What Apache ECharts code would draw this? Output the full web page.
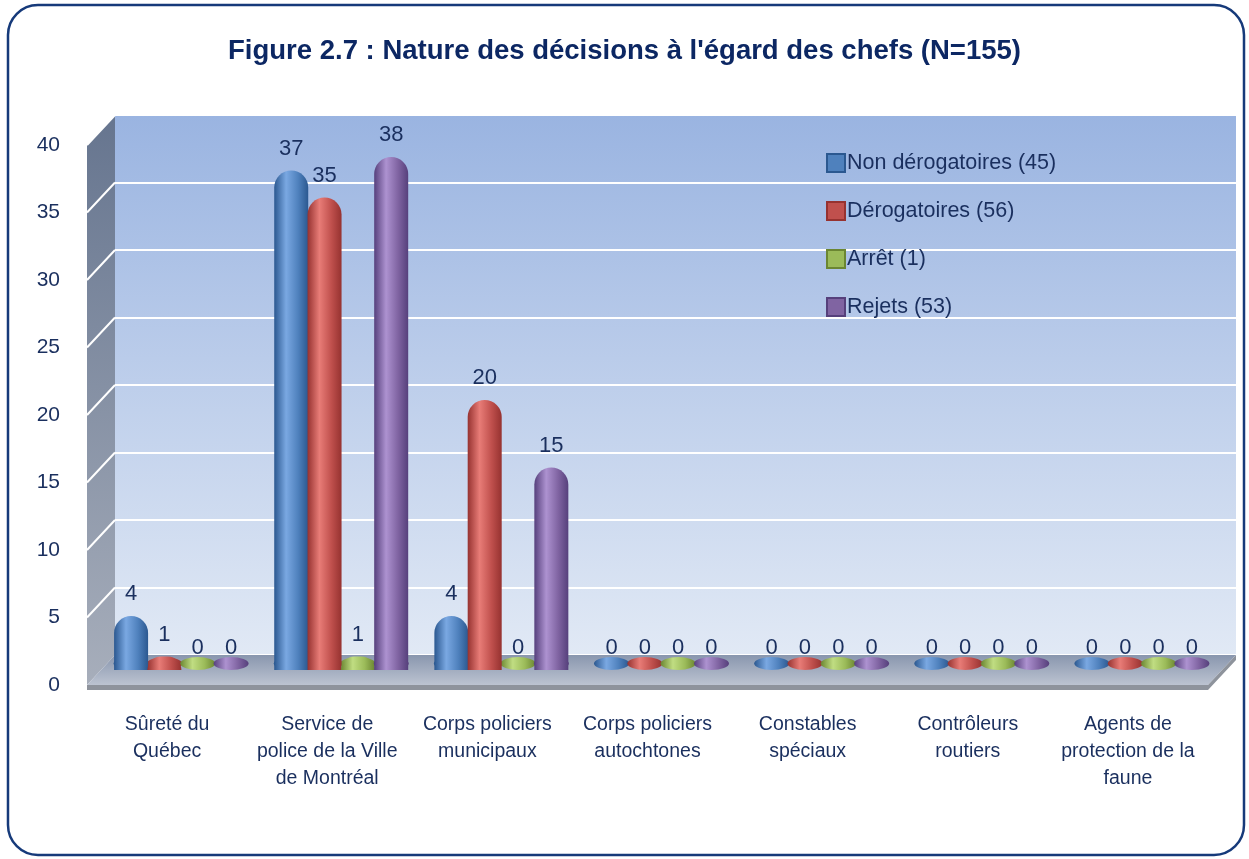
<!DOCTYPE html>
<html>
<head>
<meta charset="utf-8">
<title>Figure 2.7</title>
<script src="https://cdn.jsdelivr.net/npm/echarts@6/dist/echarts.min.js"></script>
<style>
  html, body { margin: 0; padding: 0; background: #fff; }
  #chart { width: 1249px; height: 859px; }
</style>
</head>
<body>
<div id="chart"></div>
<script>
// données
const categories = [
  "Sûreté du\nQuébec",
  "Service de\npolice de la Ville\nde Montréal",
  "Corps policiers\nmunicipaux",
  "Corps policiers\nautochtones",
  "Constables\nspéciaux",
  "Contrôleurs\nroutiers",
  "Agents de\nprotection de la\nfaune"
];
const seriesNames = ["Non dérogatoires (45)", "Dérogatoires (56)", "Arrêt (1)", "Rejets (53)"];
const nonDerogatoires = [4, 37, 4, 0, 0, 0, 0];
const derogatoires = [1, 35, 20, 0, 0, 0, 0];
const arret = [0, 1, 0, 0, 0, 0, 0];
const rejets = [0, 38, 15, 0, 0, 0, 0];
const yMin = 0, yMax = 40, yStep = 5;

const seriesData = [nonDerogatoires, derogatoires, arret, rejets];
// couleurs : [sombre, clair, base]
const palette = [
  ["#2b5890", "#7aa8e2", "#4f81bd"],
  ["#963230", "#e87c77", "#c0504d"],
  ["#6b8632", "#c0dd82", "#9bbb59"],
  ["#56407c", "#ad92d0", "#8064a2"]
];
const textColor = "#1a2f5e";

// plans avant / milieu / arrière (effet 3D)
const W = 1249, H = 859;
const front = { left: 87, right: W - 1208, top: 145, bottom: H - 685 };
const depth = { dx: 28, dy: -30 };
const mid = { left: front.left + depth.dx / 2, right: front.right - depth.dx / 2, top: front.top + depth.dy / 2, bottom: front.bottom - depth.dy / 2 };
const back = { left: front.left + depth.dx, right: front.right - depth.dx, top: front.top + depth.dy, bottom: front.bottom - depth.dy };

const cylinder = function (c) {
  return new echarts.graphic.LinearGradient(0, 0, 1, 0, [
    { offset: 0, color: c[0] },
    { offset: 0.35, color: c[1] },
    { offset: 0.7, color: c[2] },
    { offset: 1, color: c[0] }
  ]);
};

let chart = echarts.init(document.getElementById("chart"));

let series = [];
seriesNames.forEach(function (name, i) {
  series.push({
    name: name,
    type: "bar",
    xAxisIndex: 1,
    yAxisIndex: 1,
    data: seriesData[i],
    barWidth: 34,
    barGap: "-2%",
    barCategoryGap: "15%",
    z: 4,
    itemStyle: { color: cylinder(palette[i]), borderRadius: [17, 17, 0, 0] },
    label: {
      show: true,
      position: "top",
      distance: 11,
      color: textColor,
      fontSize: 22,
      fontFamily: "Liberation Sans"
    }
  });
  // disque à la base du cylindre
  series.push({
    name: name,
    type: "pictorialBar",
    xAxisIndex: 1,
    yAxisIndex: 1,
    data: seriesData[i],
    symbol: "circle",
    symbolSize: [35, 13],
    symbolPosition: "start",
    barWidth: 34,
    barGap: "-2%",
    barCategoryGap: "15%",
    z: 3,
    silent: true,
    itemStyle: { color: cylinder(palette[i]) }
  });
});

chart.setOption({
  animation: false,
  textStyle: { fontFamily: "Liberation Sans" },
  title: {
    text: "Figure 2.7 : Nature des décisions à l'égard des chefs (N=155)",
    left: "center",
    top: 32,
    textStyle: { fontSize: 27.5, fontWeight: "bold", color: "#0c2763", fontFamily: "Liberation Sans" }
  },
  legend: {
    orient: "vertical",
    left: 826,
    top: 152,
    itemWidth: 18,
    itemHeight: 18,
    itemGap: 26,
    padding: 0,
    icon: "rect",
    textStyle: { fontSize: 21.5, color: textColor, padding: [0, 0, 0, -3] },
    data: seriesNames.map(function (n, i) {
      return { name: n, itemStyle: { color: palette[i][2], borderColor: palette[i][0], borderWidth: 2 } };
    })
  },
  grid: [
    { left: back.left, right: back.right, top: back.top, bottom: back.bottom, show: true, borderWidth: 0,
      backgroundColor: new echarts.graphic.LinearGradient(0, 0, 0, 1, [
        { offset: 0, color: "#9ab4e1" },
        { offset: 1, color: "#e1e9f5" }
      ]) },
    { left: mid.left, right: mid.right, top: mid.top, bottom: mid.bottom },
    { left: front.left, right: front.right, top: front.top, bottom: front.bottom }
  ],
  xAxis: [
    { type: "category", gridIndex: 0, data: categories, show: false },
    { type: "category", gridIndex: 1, data: categories, show: false },
    {
      type: "category", gridIndex: 2, data: categories,
      axisLine: { show: false }, axisTick: { show: false },
      axisLabel: { margin: 26, fontSize: 19.5, lineHeight: 27, color: textColor, interval: 0, verticalAlign: "top" }
    }
  ],
  yAxis: [
    {
      type: "value", gridIndex: 0, min: yMin, max: yMax, interval: yStep,
      axisLine: { show: false }, axisTick: { show: false }, axisLabel: { show: false },
      splitLine: { show: true, lineStyle: { color: "#ffffff", width: 2 } }
    },
    { type: "value", gridIndex: 1, min: yMin, max: yMax, interval: yStep, show: false, splitLine: { show: false } },
    {
      type: "value", gridIndex: 2, min: yMin, max: yMax, interval: yStep,
      axisLine: { show: false }, axisTick: { show: false }, splitLine: { show: false },
      axisLabel: { margin: 27, fontSize: 21, color: textColor }
    }
  ],
  series: series
});

// murs latéral et sol, calés sur les axes
let ticks = [];
for (let v = yMin; v <= yMax; v += yStep) ticks.push(v);
let fx0 = front.left, fx1 = W - front.right;
let fyTop = chart.convertToPixel({ yAxisIndex: 2 }, yMax);
let fy0 = chart.convertToPixel({ yAxisIndex: 2 }, yMin);
let bx0 = back.left, bx1 = W - back.right;
let byTop = chart.convertToPixel({ yAxisIndex: 0 }, yMax);
let by0 = chart.convertToPixel({ yAxisIndex: 0 }, yMin);

let elements = [
  {
    type: "rect", z: 100,
    shape: { x: 8, y: 5, width: W - 13, height: H - 9, r: 30 },
    style: { fill: null, stroke: "#163a7a", lineWidth: 2.5 }
  },
  {
    type: "polygon", z: 1,
    shape: { points: [[fx0, fyTop], [bx0, byTop], [bx0, by0], [fx0, fy0]] },
    style: {
      fill: new echarts.graphic.LinearGradient(0, 0, 0, 1, [
        { offset: 0, color: "#66758f" },
        { offset: 1, color: "#a7aebb" }
      ])
    }
  },
  {
    type: "polygon", z: 1,
    shape: { points: [[fx0, fy0], [bx0, by0], [bx1, by0], [fx1, fy0]] },
    style: {
      fill: new echarts.graphic.LinearGradient(0, 0, 0, 1, [
        { offset: 0, color: "#8996ae" },
        { offset: 1, color: "#bcc3d1" }
      ])
    }
  },
  {
    type: "polygon", z: 1,
    shape: { points: [[fx0, fy0], [fx1, fy0], [bx1, by0], [bx1, by0 + 5], [fx1, fy0 + 5], [fx0, fy0 + 5]] },
    style: { fill: "#8e939c" }
  }
];
ticks.forEach(function (v) {
  if (v === yMin) return;
  let yf = chart.convertToPixel({ yAxisIndex: 2 }, v);
  let yb = chart.convertToPixel({ yAxisIndex: 0 }, v);
  elements.push({
    type: "line", z: 2,
    shape: { x1: fx0, y1: yf, x2: bx0, y2: yb },
    style: { stroke: "#ffffff", lineWidth: 2 }
  });
});
chart.setOption({ graphic: { elements: elements } });
</script>
</body>
</html>
